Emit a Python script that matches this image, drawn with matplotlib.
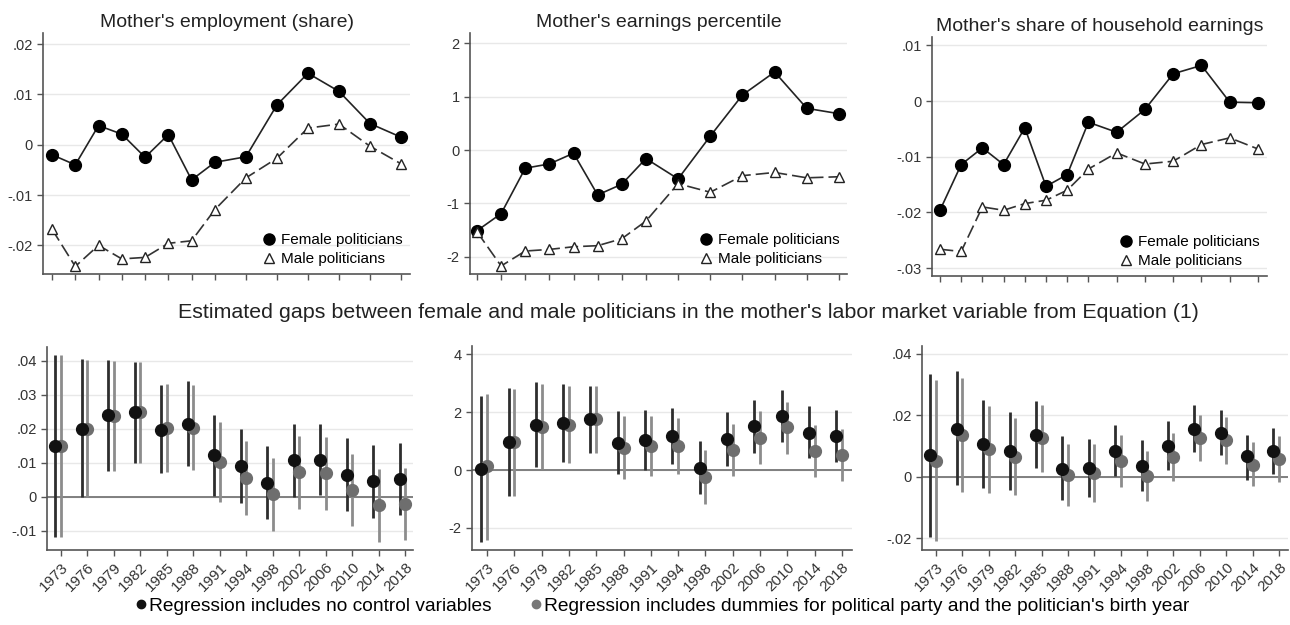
import numpy as np
import matplotlib.pyplot as plt
from matplotlib.lines import Line2D

plt.rcParams['font.family'] = ['Liberation Sans', 'DejaVu Sans']

years = [1973, 1976, 1979, 1982, 1985, 1988, 1991, 1994, 1998, 2002, 2006, 2010, 2014, 2018]

# top row: raw means
emp_female = [-0.0020, -0.0040, 0.0038, 0.0021, -0.0025, 0.0020, -0.0070, -0.0035, -0.0024, 0.0079, 0.0142, 0.0106, 0.0042, 0.0015]
emp_male = [-0.0168, -0.0242, -0.0200, -0.0227, -0.0224, -0.0196, -0.0191, -0.0129, -0.0066, -0.0027, 0.0033, 0.0041, -0.0003, -0.0038]
pct_female = [-1.51, -1.19, -0.34, -0.26, -0.06, -0.84, -0.64, -0.16, -0.54, 0.26, 1.03, 1.46, 0.78, 0.68]
pct_male = [-1.53, -2.17, -1.89, -1.86, -1.81, -1.79, -1.66, -1.33, -0.63, -0.79, -0.48, -0.42, -0.52, -0.50]
shr_female = [-0.0196, -0.0114, -0.0084, -0.0114, -0.0048, -0.0153, -0.0132, -0.0038, -0.0056, -0.0015, 0.0049, 0.0064, -0.0002, -0.0003]
shr_male = [-0.0266, -0.0270, -0.0190, -0.0196, -0.0184, -0.0178, -0.0160, -0.0122, -0.0093, -0.0113, -0.0108, -0.0078, -0.0066, -0.0086]

# bottom row: estimated gaps (point, lower, upper)
emp_b = [0.0149, 0.0201, 0.0240, 0.0250, 0.0196, 0.0216, 0.0122, 0.0092, 0.0041, 0.0108, 0.0110, 0.0066, 0.0046, 0.0052]
emp_b_lo = [-0.0119, 0.0000, 0.0076, 0.0100, 0.0069, 0.0091, 0.0003, -0.0017, -0.0066, 0.0000, 0.0005, -0.0041, -0.0061, -0.0054]
emp_b_hi = [0.0418, 0.0405, 0.0404, 0.0397, 0.0328, 0.0340, 0.0240, 0.0201, 0.0149, 0.0214, 0.0214, 0.0172, 0.0152, 0.0159]
emp_g = [0.0149, 0.0201, 0.0239, 0.0249, 0.0204, 0.0203, 0.0103, 0.0056, 0.0008, 0.0074, 0.0069, 0.0020, -0.0025, -0.0022]
emp_g_lo = [-0.0119, 0.0000, 0.0076, 0.0100, 0.0074, 0.0080, -0.0015, -0.0054, -0.0101, -0.0034, -0.0039, -0.0086, -0.0132, -0.0127]
emp_g_hi = [0.0418, 0.0402, 0.0401, 0.0396, 0.0333, 0.0328, 0.0221, 0.0165, 0.0115, 0.0180, 0.0176, 0.0127, 0.0083, 0.0085]

pct_b = [0.02, 0.97, 1.57, 1.61, 1.75, 0.94, 1.03, 1.18, 0.08, 1.06, 1.51, 1.86, 1.28, 1.18]
pct_b_lo = [-2.50, -0.88, 0.10, 0.28, 0.59, -0.15, -0.01, 0.22, -0.84, 0.14, 0.60, 0.97, 0.43, 0.28]
pct_b_hi = [2.56, 2.82, 3.05, 2.96, 2.90, 2.05, 2.07, 2.13, 0.99, 1.99, 2.42, 2.76, 2.21, 2.07]
pct_g = [0.14, 0.95, 1.49, 1.57, 1.75, 0.77, 0.82, 0.83, -0.24, 0.68, 1.12, 1.47, 0.65, 0.53]
pct_g_lo = [-2.40, -0.88, 0.02, 0.25, 0.60, -0.30, -0.22, -0.13, -1.17, -0.21, 0.22, 0.57, -0.24, -0.38]
pct_g_hi = [2.62, 2.80, 2.96, 2.90, 2.90, 1.87, 1.86, 1.78, 0.68, 1.58, 2.03, 2.36, 1.55, 1.43]

shr_b = [0.0070, 0.0157, 0.0108, 0.0083, 0.0137, 0.0025, 0.0028, 0.0083, 0.0036, 0.0099, 0.0157, 0.0142, 0.0066, 0.0083]
shr_b_lo = [-0.0195, -0.0026, -0.0037, -0.0045, 0.0028, -0.0077, -0.0066, 0.0001, -0.0046, 0.0023, 0.0080, 0.0070, -0.0010, 0.0010]
shr_b_hi = [0.0335, 0.0343, 0.0251, 0.0211, 0.0248, 0.0132, 0.0124, 0.0167, 0.0118, 0.0180, 0.0235, 0.0218, 0.0137, 0.0159]
shr_g = [0.0052, 0.0137, 0.0090, 0.0064, 0.0126, 0.0007, 0.0012, 0.0050, 0.0001, 0.0064, 0.0126, 0.0118, 0.0039, 0.0059]
shr_g_lo = [-0.0211, -0.0050, -0.0053, -0.0061, 0.0015, -0.0097, -0.0084, -0.0035, -0.0080, -0.0015, 0.0050, 0.0042, -0.0032, -0.0017]
shr_g_hi = [0.0316, 0.0322, 0.0232, 0.0191, 0.0235, 0.0108, 0.0108, 0.0135, 0.0083, 0.0142, 0.0202, 0.0193, 0.0113, 0.0132]

W, H = 1290, 625
fig = plt.figure(figsize=(12.9, 6.25), dpi=100)


def box(l, r, t, b):
    return [l / W, (H - b) / H, (r - l) / W, (b - t) / H]


def fmt(v):
    if abs(v) < 1e-12:
        return '0'
    if float(v).is_integer():
        return '%d' % v
    return ('%g' % v).replace('0.', '.')


def style(ax, yticks, ylim):
    ax.set_ylim(ylim)
    ax.set_yticks(yticks)
    ax.set_yticklabels([fmt(v) for v in yticks], fontsize=10.5, color='#333333')
    ax.grid(axis='y', color='#e8e8e8', linewidth=1)
    ax.set_axisbelow(True)
    for s in ['top', 'right']:
        ax.spines[s].set_visible(False)
    for s in ['left', 'bottom']:
        ax.spines[s].set_color('#555555')
        ax.spines[s].set_linewidth(1.2)
    ax.tick_params(color='#555555', length=4, width=1)


top_specs = [
    ("Mother's employment (share)", emp_female, emp_male, [-0.02, -0.01, 0, 0.01, 0.02], (-0.0257, 0.0222),
     box(43, 410, 33, 274), (1971.84, 2019.16)),
    ("Mother's earnings percentile", pct_female, pct_male, [-2, -1, 0, 1, 2], (-2.32, 2.19),
     box(470, 847, 33, 274), (1972.13, 2019.0)),
    ("Mother's share of household earnings", shr_female, shr_male, [-0.03, -0.02, -0.01, 0, 0.01], (-0.0314, 0.0115),
     box(932, 1267, 37, 276), (1971.87, 2019.27)),
]

for title, fem, mal, yt, yl, pos, xl in top_specs:
    ax = fig.add_axes(pos)
    ax.plot(years, fem, color='#222222', linewidth=1.2, marker='o', markersize=8.5,
            markerfacecolor='black', markeredgecolor='black')
    ax.plot(years, mal, color='#333333', linewidth=1.2, linestyle=(0, (8, 3)), marker='^', markersize=7,
            markerfacecolor='white', markeredgecolor='#222222')
    style(ax, yt, yl)
    ax.set_xlim(xl)
    ax.set_xticks(years)
    ax.set_xticklabels([])
    ax.set_title(title, fontsize=14, color='#222222', pad=4)
    h = [Line2D([], [], linestyle='none', marker='o', markersize=8, color='black'),
         Line2D([], [], linestyle='none', marker='^', markersize=7, markerfacecolor='white', markeredgecolor='#222222')]
    ax.legend(h, ['Female politicians', 'Male politicians'], loc='lower right', frameon=False, fontsize=11,
              handletextpad=0.2, handlelength=1.2, labelspacing=0.35, borderaxespad=0.1)

bottom_specs = [
    (emp_b, emp_b_lo, emp_b_hi, emp_g, emp_g_lo, emp_g_hi, [-0.01, 0, 0.01, 0.02, 0.03, 0.04], (-0.0156, 0.0441),
     box(47, 413, 347, 550), (-0.53, 13.3)),
    (pct_b, pct_b_lo, pct_b_hi, pct_g, pct_g_lo, pct_g_hi, [-2, 0, 2, 4], (-2.76, 4.28),
     box(472, 852, 346, 550), (-0.55, 13.37)),
    (shr_b, shr_b_lo, shr_b_hi, shr_g, shr_g_lo, shr_g_hi, [-0.02, 0, 0.02, 0.04], (-0.0239, 0.0426),
     box(922, 1288, 346, 550), (-0.53, 13.34)),
]

x = np.arange(len(years))
off = 0.21
for b, blo, bhi, g, glo, ghi, yt, yl, pos, xl in bottom_specs:
    ax = fig.add_axes(pos)
    style(ax, yt, yl)
    ax.axhline(0, color='#777777', linewidth=1.3, zorder=1)
    ax.vlines(x - off, blo, bhi, color='#2e2e2e', linewidth=2, zorder=2)
    ax.vlines(x, glo, ghi, color='#8c8c8c', linewidth=2, zorder=2)
    ax.plot(x - off, b, linestyle='none', marker='o', markersize=8.5, color='#111111', zorder=4)
    ax.plot(x, g, linestyle='none', marker='o', markersize=8.5, color='#6e6e6e', zorder=3)
    ax.set_xlim(xl)
    ax.set_xticks(x)
    ax.set_xticklabels([str(y) for y in years], rotation=45, ha='right', rotation_mode='anchor',
                       fontsize=11, color='#333333')

fig.text(688 / W, 1 - 312 / H, "Estimated gaps between female and male politicians in the mother's labor market variable from Equation (1)",
         ha='center', va='center', fontsize=15.4, color='#222222')

lh = [Line2D([], [], linestyle='none', marker='o', markersize=6, color='#111111'),
      Line2D([], [], linestyle='none', marker='o', markersize=6, color='#777777')]
fig.legend(lh, ['Regression includes no control variables',
                "Regression includes dummies for political party and the politician's birth year"],
           loc='center', bbox_to_anchor=(0.513, 1 - 606 / H), ncol=2, frameon=False, fontsize=13.8,
           handletextpad=0.05, handlelength=0.7, columnspacing=2.0)

fig.savefig('out.png', dpi=100)
